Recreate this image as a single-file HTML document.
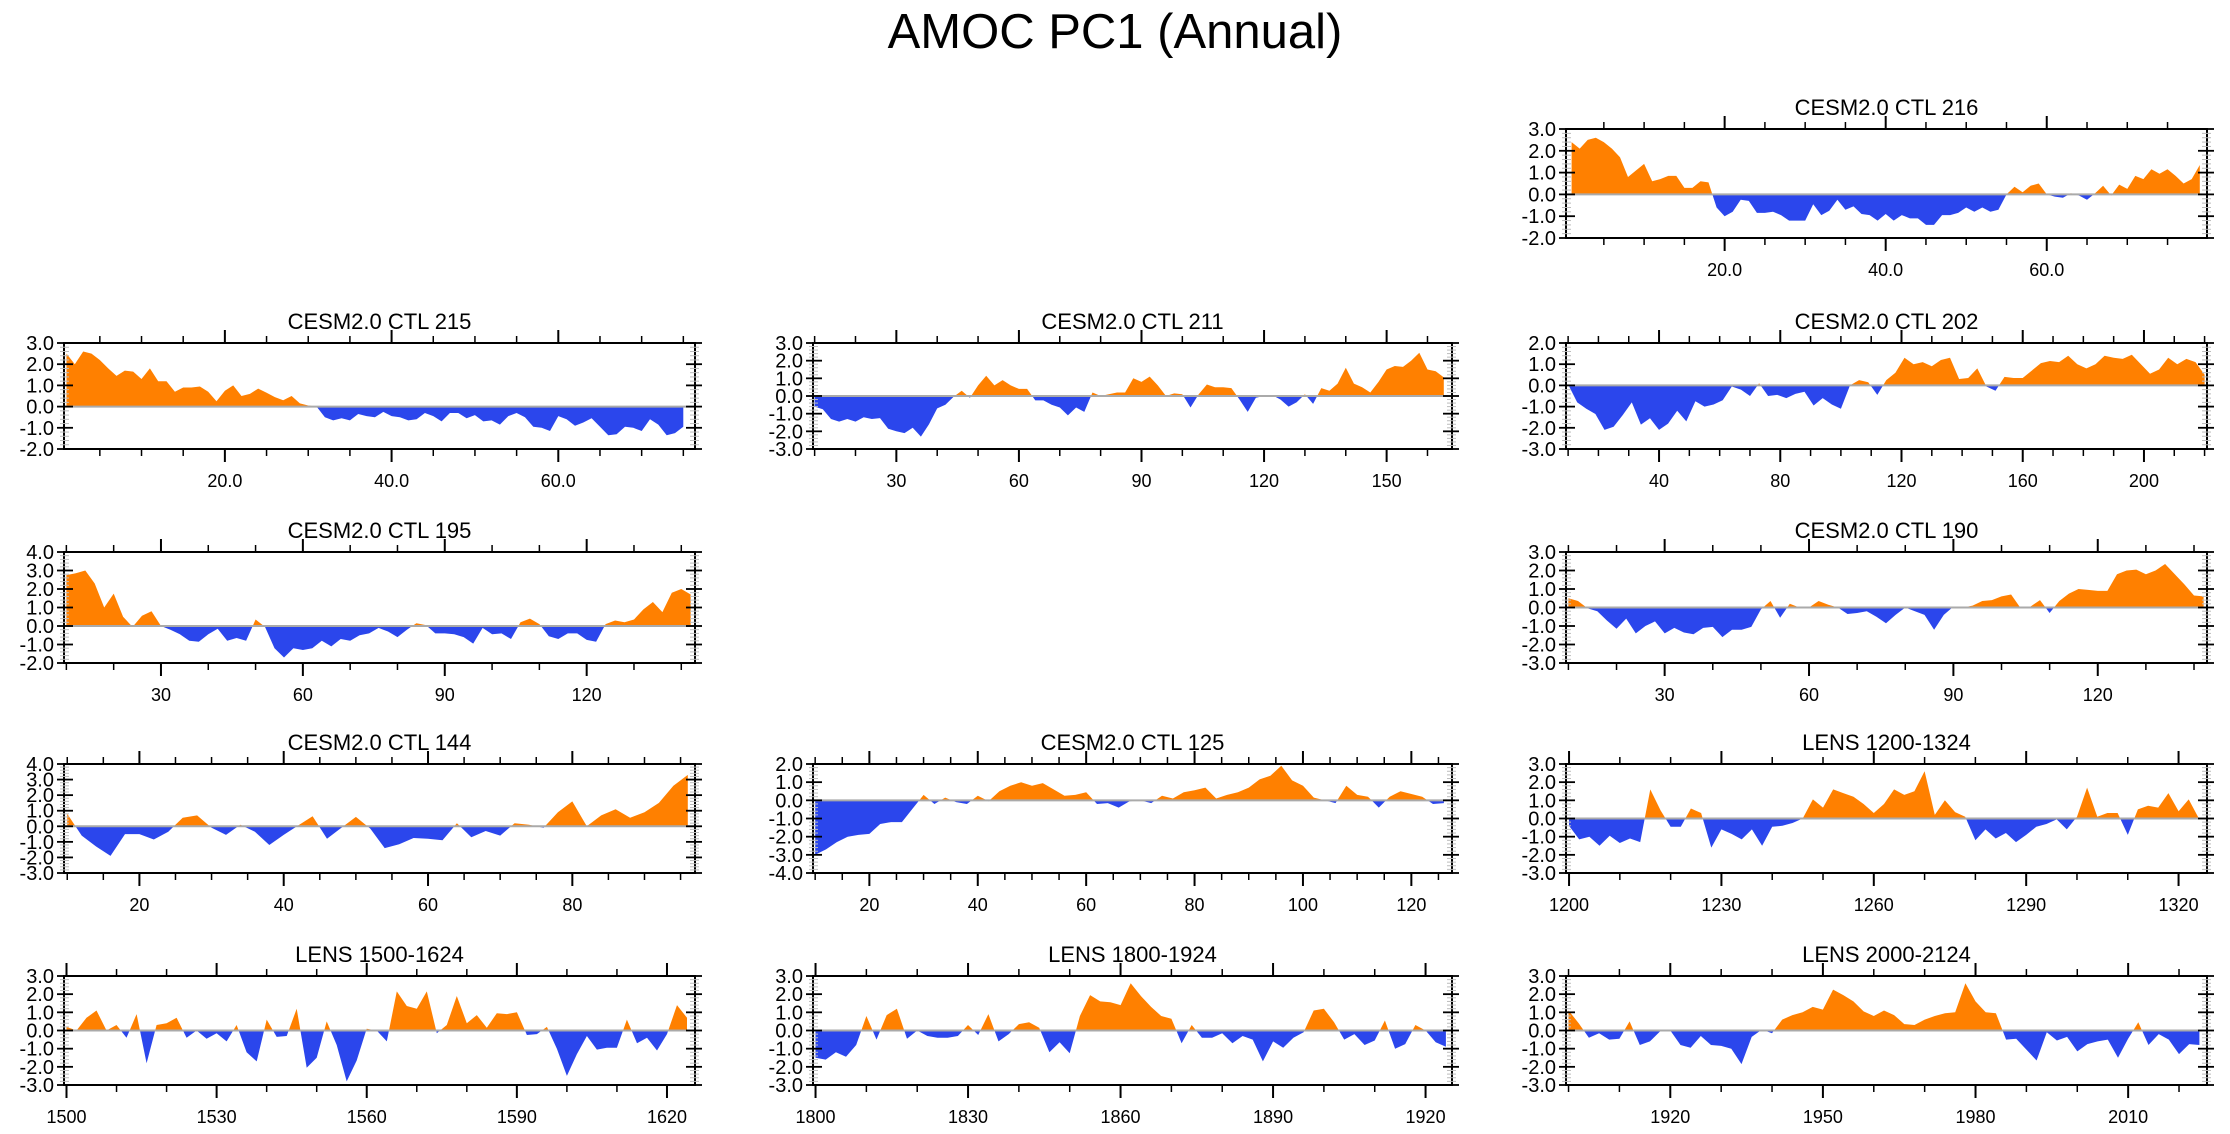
<!DOCTYPE html>
<html><head><meta charset="utf-8"><title>AMOC PC1 (Annual)</title>
<style>
html,body{margin:0;padding:0;background:#fff;}
svg{display:block;font-family:"Liberation Sans",Arial,sans-serif;}
</style></head>
<body>
<svg id="chart" width="2230" height="1134" viewBox="0 0 2230 1134" xmlns="http://www.w3.org/2000/svg">
<text x="1115" y="48" text-anchor="middle" font-size="49" fill="#000">AMOC PC1 (Annual)</text>
</svg>
<script>
// ---- data ----
const ctl216 = [2.4,2.1,2.5,2.6,2.4,2.1,1.7,0.8,1.1,1.4,0.6,0.7,0.85,0.85,0.3,0.3,0.6,0.55,-0.6,-1.0,-0.8,-0.25,-0.3,-0.85,-0.85,-0.8,-0.95,-1.2,-1.2,-1.2,-0.45,-0.95,-0.75,-0.25,-0.7,-0.55,-0.9,-0.95,-1.2,-0.9,-1.2,-0.95,-1.1,-1.1,-1.4,-1.4,-0.95,-0.95,-0.85,-0.6,-0.8,-0.6,-0.8,-0.7,0.0,0.35,0.1,0.4,0.5,0.0,-0.1,-0.15,0.05,-0.05,-0.25,0.05,0.4,-0.05,0.45,0.25,0.85,0.7,1.15,0.95,1.15,0.85,0.5,0.7,1.35];
const ctl215 = [2.5,2.0,2.6,2.5,2.2,1.8,1.45,1.7,1.65,1.3,1.8,1.2,1.2,0.7,0.9,0.9,0.95,0.7,0.25,0.75,1.0,0.5,0.6,0.85,0.65,0.45,0.3,0.5,0.15,0.05,0.0,-0.5,-0.65,-0.55,-0.65,-0.35,-0.45,-0.5,-0.25,-0.45,-0.5,-0.65,-0.6,-0.3,-0.45,-0.7,-0.3,-0.3,-0.55,-0.4,-0.7,-0.65,-0.85,-0.45,-0.3,-0.5,-0.95,-1.0,-1.15,-0.45,-0.6,-0.9,-0.75,-0.55,-0.95,-1.35,-1.3,-0.95,-1.0,-1.15,-0.6,-0.85,-1.35,-1.25,-0.95];
const ctl211 = [-0.6,-0.75,-1.3,-1.45,-1.3,-1.45,-1.2,-1.3,-1.25,-1.85,-2.0,-2.1,-1.8,-2.3,-1.6,-0.7,-0.5,-0.05,0.3,-0.1,0.6,1.15,0.6,0.9,0.6,0.4,0.4,-0.25,-0.25,-0.5,-0.65,-1.1,-0.65,-0.9,0.2,0.0,0.1,0.2,0.2,1.0,0.8,1.1,0.6,0.0,0.15,0.1,-0.65,0.1,0.65,0.5,0.5,0.45,-0.2,-0.9,-0.1,0.0,0.05,-0.2,-0.6,-0.35,0.1,-0.45,0.45,0.3,0.7,1.6,0.7,0.5,0.2,0.8,1.5,1.7,1.65,2.0,2.45,1.5,1.4,1.05];
const ctl202 = [0.05,-0.8,-1.1,-1.35,-2.1,-1.95,-1.4,-0.8,-1.85,-1.55,-2.1,-1.8,-1.2,-1.7,-0.75,-1.0,-0.9,-0.7,-0.05,-0.2,-0.5,0.1,-0.5,-0.45,-0.6,-0.4,-0.3,-0.95,-0.6,-0.9,-1.1,0.0,0.25,0.15,-0.45,0.25,0.6,1.3,1.0,1.1,0.9,1.2,1.3,0.3,0.35,0.8,-0.05,-0.25,0.4,0.35,0.35,0.7,1.05,1.15,1.1,1.4,1.0,0.8,1.0,1.4,1.3,1.25,1.45,1.0,0.55,0.75,1.3,1.0,1.25,1.1,0.5];
const ctl195 = [2.75,2.85,3.0,2.3,1.0,1.75,0.5,-0.05,0.55,0.8,0.0,-0.2,-0.45,-0.8,-0.85,-0.45,-0.15,-0.8,-0.65,-0.8,0.35,-0.05,-1.2,-1.7,-1.2,-1.3,-1.2,-0.8,-1.1,-0.7,-0.8,-0.5,-0.4,-0.1,-0.3,-0.6,-0.2,0.15,0.05,-0.4,-0.4,-0.45,-0.6,-0.95,-0.1,-0.45,-0.4,-0.7,0.2,0.4,0.1,-0.55,-0.7,-0.4,-0.4,-0.75,-0.85,0.1,0.3,0.2,0.35,0.9,1.3,0.75,1.8,2.0,1.7];
const ctl190 = [0.5,0.35,-0.05,-0.2,-0.7,-1.15,-0.6,-1.4,-1.0,-0.75,-1.4,-1.1,-1.35,-1.45,-1.1,-1.05,-1.6,-1.2,-1.2,-1.05,-0.1,0.35,-0.55,0.2,0.0,0.0,0.35,0.15,0.0,-0.35,-0.3,-0.2,-0.5,-0.85,-0.4,0.0,-0.2,-0.4,-1.2,-0.4,0.05,0.0,0.1,0.35,0.4,0.6,0.7,-0.05,0.05,0.4,-0.3,0.35,0.75,1.0,0.95,0.9,0.9,1.8,2.0,2.05,1.8,2.0,2.35,1.8,1.25,0.65,0.6];
const ctl144 = [0.8,-0.6,-1.3,-1.9,-0.5,-0.5,-0.85,-0.35,0.55,0.7,-0.1,-0.55,0.1,-0.35,-1.2,-0.55,0.05,0.65,-0.8,-0.1,0.6,-0.15,-1.4,-1.15,-0.75,-0.8,-0.9,0.2,-0.7,-0.3,-0.6,0.2,0.1,-0.1,0.9,1.6,0.0,0.7,1.1,0.55,0.9,1.5,2.6,3.3];
const ctl125 = [-3.0,-2.7,-2.3,-2.0,-1.9,-1.85,-1.3,-1.2,-1.2,-0.45,0.3,-0.2,0.15,-0.1,-0.2,0.25,-0.05,0.5,0.8,1.0,0.8,0.95,0.6,0.25,0.3,0.45,-0.2,-0.15,-0.4,-0.05,0.0,-0.15,0.25,0.1,0.45,0.55,0.7,0.1,0.3,0.45,0.7,1.15,1.35,1.9,1.1,0.8,0.15,0.0,-0.15,0.8,0.3,0.2,-0.4,0.2,0.5,0.35,0.2,-0.2,-0.15];
const lens1200 = [-0.4,-1.15,-1.0,-1.5,-0.95,-1.35,-1.1,-1.3,1.6,0.45,-0.45,-0.45,0.55,0.3,-1.6,-0.6,-0.85,-1.15,-0.6,-1.5,-0.45,-0.4,-0.25,0.0,1.05,0.6,1.6,1.4,1.2,0.8,0.3,0.8,1.6,1.3,1.5,2.6,0.2,1.0,0.35,0.1,-1.2,-0.6,-1.1,-0.8,-1.3,-0.9,-0.45,-0.3,-0.05,-0.6,0.1,1.7,0.1,0.3,0.3,-0.9,0.5,0.7,0.6,1.4,0.4,1.05,0.0];
const lens1500 = [0.2,0.0,0.7,1.1,0.0,0.3,-0.4,0.9,-1.8,0.3,0.4,0.7,-0.4,0.0,-0.45,-0.15,-0.6,0.3,-1.2,-1.7,0.6,-0.35,-0.3,1.2,-2.05,-1.5,0.5,-0.8,-2.8,-1.65,0.1,0.0,-0.6,2.15,1.35,1.2,2.15,-0.15,0.3,1.9,0.4,0.85,0.15,0.95,0.9,1.0,-0.25,-0.2,0.2,-1.0,-2.5,-1.3,-0.3,-1.05,-0.95,-0.95,0.6,-0.7,-0.4,-1.1,-0.2,1.4,0.7];
const lens1800 = [-1.5,-1.6,-1.2,-1.45,-0.8,0.8,-0.5,0.85,1.2,-0.45,0.0,-0.3,-0.4,-0.4,-0.3,0.3,-0.25,0.9,-0.6,-0.2,0.35,0.45,0.15,-1.2,-0.65,-1.25,0.8,1.95,1.6,1.55,1.4,2.6,1.9,1.3,0.8,0.65,-0.7,0.3,-0.4,-0.4,-0.15,-0.7,-0.3,-0.5,-1.7,-0.6,-0.95,-0.4,-0.1,1.1,1.2,0.45,-0.5,-0.2,-0.8,-0.55,0.55,-1.0,-0.75,0.3,0.0,-0.65,-0.9];
const lens2000 = [1.1,0.4,-0.4,-0.15,-0.5,-0.45,0.5,-0.8,-0.6,-0.05,0.0,-0.8,-0.95,-0.3,-0.8,-0.85,-1.0,-1.85,-0.35,0.05,-0.15,0.6,0.85,1.0,1.3,1.15,2.25,1.95,1.6,1.05,0.8,1.1,0.85,0.35,0.3,0.6,0.8,0.95,1.0,2.6,1.6,1.0,0.95,-0.5,-0.45,-1.05,-1.65,-0.1,-0.55,-0.35,-1.15,-0.75,-0.6,-0.5,-1.5,-0.45,0.45,-0.8,-0.2,-0.5,-1.3,-0.75,-0.8];

const panelTitles = ["CESM2.0 CTL 216","CESM2.0 CTL 215","CESM2.0 CTL 211","CESM2.0 CTL 202","CESM2.0 CTL 195","CESM2.0 CTL 190","CESM2.0 CTL 144","CESM2.0 CTL 125","LENS 1200-1324","LENS 1500-1624","LENS 1800-1924","LENS 2000-2124"];
const panelSeries = [ctl216,ctl215,ctl211,ctl202,ctl195,ctl190,ctl144,ctl125,lens1200,lens1500,lens1800,lens2000];
const seriesStart = [1,1,10,10,10,10,10,10,1200,1500,1800,1900];
const seriesStep  = [1,1,2,3,2,2,2,2,2,2,2,2];
const xRangeMin = [0.3,0.7,9.6,9.3,9.5,9.5,9.55,9.6,1199.4,1499.5,1799.5,1899.5];
const xRangeMax = [79.9,76.4,166,220.8,142.9,142.7,97,127.5,1325.6,1625.6,1925.2,2025.5];
const yRangeMin = [-2,-2,-3,-3,-2,-3,-3,-4,-3,-3,-3,-3];
const yRangeMax = [3,3,3,2,4,3,4,2,3,3,3,3];
const xMajorStep = [20,20,30,40,30,30,20,20,30,30,30,30];
const xMinorStep = [5,5,10,10,10,10,5,5,10,10,10,10];
const xLabelDecimals = [1,1,0,0,0,0,0,0,0,0,0,0];

// ---- layout ----
const colLeft=[64,813,1566], colRight=[695,1452,2207];
const rowTop=[129,343,552,764,976], rowBottom=[238,449,663,873,1085];
const panelCell=[[0,2],[1,0],[1,1],[1,2],[2,0],[2,2],[3,0],[3,1],[3,2],[4,0],[4,1],[4,2]];

const NS="http://www.w3.org/2000/svg";
const svg=document.getElementById('chart');
function mk(tag,attrs,parent){const e=document.createElementNS(NS,tag);for(const k in attrs)e.setAttribute(k,attrs[k]);(parent||svg).appendChild(e);return e;}

panelSeries.forEach((vals,i)=>{
  const [r,c]=panelCell[i];
  const L=colLeft[c],R=colRight[c],T=rowTop[r],B=rowBottom[r];
  const xmin=xRangeMin[i],xmax=xRangeMax[i],ymin=yRangeMin[i],ymax=yRangeMax[i];
  const sx=v=>L+(v-xmin)/(xmax-xmin)*(R-L);
  const sy=v=>B-(v-ymin)/(ymax-ymin)*(B-T);
  const g=mk('g',{});
  
  
  const y0=sy(0);
  const cpA=mk('clipPath',{id:'ca'+i},g); mk('rect',{x:L,y:T,width:R-L,height:y0-T},cpA);
  const cpB=mk('clipPath',{id:'cb'+i},g); mk('rect',{x:L,y:y0,width:R-L,height:B-y0},cpB);
  let d='M'+sx(seriesStart[i]).toFixed(1)+','+y0.toFixed(1);
  vals.forEach((v,k)=>{d+=' L'+sx(seriesStart[i]+k*seriesStep[i]).toFixed(1)+','+sy(v).toFixed(1);});
  d+=' L'+sx(seriesStart[i]+(vals.length-1)*seriesStep[i]).toFixed(1)+','+y0.toFixed(1)+' Z';
  const pos=mk('path',{d:d,fill:'#ff8000','clip-path':'url(#ca'+i+')'},g);
  
  
  const neg=mk('path',{d:d,fill:'#2b46ec','clip-path':'url(#cb'+i+')'},g);
  
  
  const zl=mk('line',{x1:L,x2:R,y1:y0,y2:y0,stroke:'#aaaaaa','stroke-width':2},g);
  
  
  const fr=mk('rect',{x:L,y:T,width:R-L,height:B-T,fill:'none',stroke:'#000','stroke-width':2},g);
  
  
  const nY=Math.round((ymax-ymin)/0.2);
  for(let k=0;k<=nY;k++){
    const vv=Math.round((ymin+k*0.2)*10)/10, y=sy(vv), major=(k%5===0);
    if(major){
      mk('line',{x1:L-7,x2:L+9,y1:y,y2:y,stroke:'#000','stroke-width':1.8},g);
      mk('line',{x1:R-9,x2:R+7,y1:y,y2:y,stroke:'#000','stroke-width':1.8},g);
      const t=mk('text',{x:L-10,y:y+7,'text-anchor':'end','font-size':20,fill:'#000'},g);
      t.textContent=vv.toFixed(1);
      
      
    }else{
      mk('line',{x1:L-4,x2:L+5,y1:y,y2:y,stroke:'#bbb','stroke-width':1},g);
      mk('line',{x1:R-5,x2:R+4,y1:y,y2:y,stroke:'#bbb','stroke-width':1},g);
    }
  }
  const mn=xMinorStep[i], mj=xMajorStep[i];
  for(let v=Math.ceil(xmin/mn)*mn; v<=xmax; v+=mn){
    const x=sx(v), major=(v%mj===0);
    const len=major?13:7;
    mk('line',{x1:x,x2:x,y1:B,y2:B+len,stroke:'#000','stroke-width':major?2:1.5},g);
    mk('line',{x1:x,x2:x,y1:T,y2:T-len,stroke:'#000','stroke-width':major?2:1.5},g);
    if(major){
      const t=mk('text',{x:x,y:B+38,'text-anchor':'middle','font-size':18,fill:'#000'},g);
      t.textContent=v.toFixed(xLabelDecimals[i]);
      
      
    }
  }
  const tt=mk('text',{x:(L+R)/2,y:T-14,'text-anchor':'middle','font-size':22,fill:'#000'},g);
  tt.textContent=panelTitles[i];
  
  
});
</script>
</body></html>
